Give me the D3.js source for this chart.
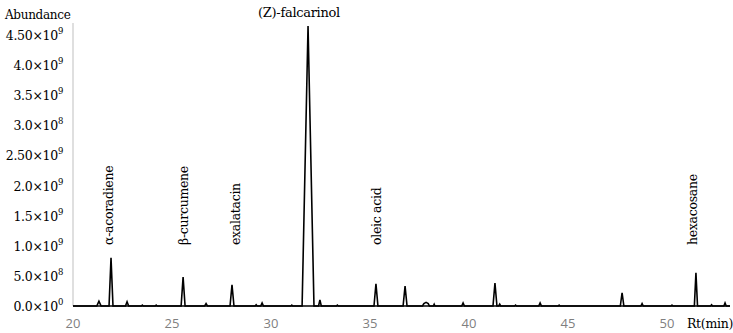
<!DOCTYPE html>
<html>
<head>
<meta charset="utf-8">
<script src="https://cdn.jsdelivr.net/npm/d3@7"></script>
<style>
  body { margin: 0; background: #fff; }
</style>
</head>
<body>
<div class="chart_box"></div>
<script>
// retention time (min) and abundance of the trace
var rt = [20, 21.2, 21.31, 21.42, 21.82, 21.92, 22.02, 22.65, 22.73, 22.81,
  23.45, 23.5, 23.55, 24.15, 24.2, 24.25,
  25.46, 25.56, 25.66, 26.65, 26.72, 26.79, 27.93, 28.03, 28.13,
  29.2, 29.25, 29.3, 29.48, 29.55, 29.62, 31.0, 31.05, 31.1,
  31.57, 31.87, 32.17, 32.4, 32.47, 32.54, 33.3, 33.35, 33.4,
  35.2, 35.3, 35.4, 36.67, 36.77, 36.87,
  37.65, 37.72, 37.83, 37.94, 38.0, 38.2, 38.24, 38.28, 39.63, 39.7, 39.77,
  41.21, 41.31, 41.41, 41.5, 41.55, 41.6, 42.3, 42.35, 42.4,
  43.52, 43.59, 43.66, 44.5, 44.55, 44.6, 47.64, 47.73, 47.82,
  48.68, 48.74, 48.8, 50.2, 50.25, 50.3, 51.38, 51.46, 51.54,
  52.2, 52.25, 52.3, 52.87, 52.93, 52.99, 53.18];
var abundance = [0, 0, 0.08, 0, 0, 0.80, 0, 0, 0.07, 0,
  0, 0.015, 0, 0, 0.015, 0,
  0, 0.48, 0, 0, 0.04, 0, 0, 0.35, 0,
  0, 0.02, 0, 0, 0.05, 0, 0, 0.015, 0,
  0, 4.65, 0, 0, 0.10, 0, 0, 0.015, 0,
  0, 0.37, 0, 0, 0.33, 0,
  0, 0.04, 0.06, 0.04, 0, 0, 0.03, 0, 0, 0.05, 0,
  0, 0.38, 0, 0, 0.03, 0, 0, 0.015, 0,
  0, 0.05, 0, 0, 0.015, 0, 0, 0.22, 0,
  0, 0.04, 0, 0, 0.015, 0, 0, 0.55, 0,
  0, 0.02, 0, 0, 0.05, 0, 0]; // x 10^9

var peakNames = ["\u03b1-acoradiene", "\u03b2-curcumene", "exalatacin", "oleic acid", "hexacosane"];
var peakRt = [21.8, 25.6, 28.2, 35.35, 51.3];

var yTickValues = [0, 0.5, 1.0, 1.5, 2.0, 2.5, 3.0, 3.5, 4.0, 4.5];
var yTickMantissa = ["0.0", "5.0", "1.0", "1.5", "2.0", "2.50", "3.0", "3.5", "4.0", "4.50"];
var yTickExp = ["0", "8", "9", "9", "9", "9", "8", "9", "9", "9"];
var xTickValues = [20, 25, 30, 35, 40, 45, 50];

var width = 733, height = 333;
var serif = "'DejaVu Serif', serif";

var svg = d3.select(".chart_box").append("svg")
  .attr("width", width)
  .attr("height", height);

var x = d3.scaleLinear().domain([20, 53.18]).range([73, 730]);
var y = d3.scaleLinear().domain([0, 4.7]).range([306, 23]);

// y axis line
svg.append("line")
  .attr("x1", x(20)).attr("x2", x(20))
  .attr("y1", y(4.7)).attr("y2", y(0))
  .attr("stroke", "#bfbfbf").attr("stroke-width", 1);

// y tick labels with superscript exponent
var yl = svg.append("g").selectAll("text")
  .data(yTickValues).enter()
  .append("text")
  .attr("x", 63)
  .attr("y", d => y(d) + 5)
  .attr("text-anchor", "end")
  .attr("font-family", serif)
  .attr("font-size", "12.5px")
  .attr("letter-spacing", "-0.3")
  .attr("fill", "#000");
yl.append("tspan").text((d, i) => yTickMantissa[i] + "\u00d710");
yl.append("tspan")
  .attr("dy", -6)
  .attr("font-size", "8.5px")
  .text((d, i) => yTickExp[i]);

// x tick labels
svg.append("g").selectAll("text")
  .data(xTickValues).enter()
  .append("text")
  .attr("x", d => x(d))
  .attr("y", 328)
  .attr("text-anchor", "middle")
  .attr("font-size", "13px")
  .attr("font-family", "'Open Sans', sans-serif")
  .attr("fill", "#7f7f7f")
  .text(d => d);

// baseline
svg.append("line")
  .attr("x1", x(20)).attr("x2", x(53.18))
  .attr("y1", y(0)).attr("y2", y(0))
  .attr("stroke", "#000").attr("stroke-width", 1.5);

var points = rt.map((d, i) => [d, abundance[i]]);
var line = d3.line().x(d => x(d[0])).y(d => y(d[1]));

svg.append("path")
  .attr("d", line(points))
  .attr("fill", "none")
  .attr("stroke", "#000")
  .attr("stroke-width", 1.6)
  .attr("stroke-linejoin", "miter");

// peak labels (rotated)
svg.append("g").selectAll("text")
  .data(peakNames).enter()
  .append("text")
  .attr("transform", (d, i) => "translate(" + x(peakRt[i]) + ",245) rotate(-90)")
  .attr("dominant-baseline", "central")
  .attr("font-family", serif)
  .attr("font-size", "12.5px")
  .attr("letter-spacing", "-0.3")
  .attr("fill", "#000")
  .text(d => d);

svg.append("text")
  .attr("x", 299)
  .attr("y", 17)
  .attr("text-anchor", "middle")
  .attr("font-family", serif)
  .attr("font-size", "13px")
  .attr("letter-spacing", "-0.3")
  .text("(Z)-falcarinol");

svg.append("text")
  .attr("x", 5)
  .attr("y", 19)
  .attr("font-family", serif)
  .attr("font-size", "12px")
  .attr("letter-spacing", "-0.3")
  .text("Abundance");

svg.append("text")
  .attr("x", 687)
  .attr("y", 328)
  .attr("font-family", serif)
  .attr("font-size", "12.5px")
  .attr("letter-spacing", "-0.3")
  .text("Rt(min)");
</script>
</body>
</html>
